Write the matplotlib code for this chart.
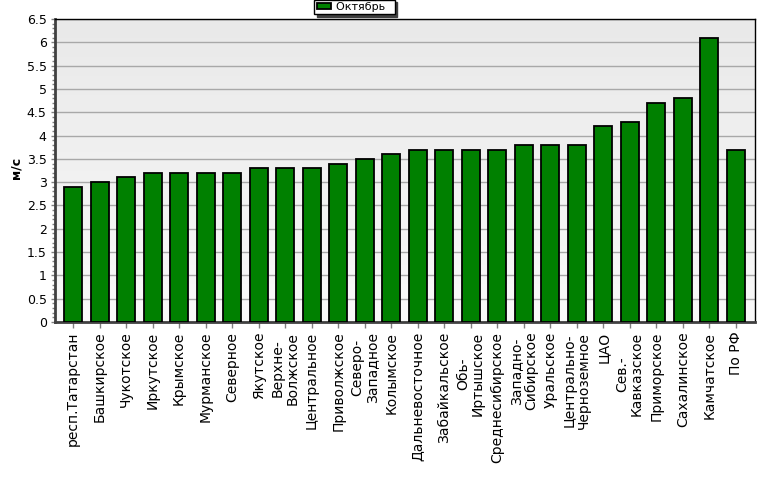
import numpy as np
import matplotlib
matplotlib.use('Agg')
import matplotlib.pyplot as plt
from matplotlib.ticker import MultipleLocator

plt.rcParams['font.family'] = ['DejaVu Sans']

regions = ['респ.Татарстан', 'Башкирское', 'Чукотское', 'Иркутское', 'Крымское',
           'Мурманское', 'Северное', 'Якутское', 'Верхне-\nВолжское', 'Центральное',
           'Приволжское', 'Северо-\nЗападное', 'Колымское', 'Дальневосточное',
           'Забайкальское', 'Обь-\nИртышское', 'Среднесибирское', 'Западно-\nСибирское',
           'Уральское', 'Центрально-\nЧерноземное', 'ЦАО', 'Сев.-\nКавказское',
           'Приморское', 'Сахалинское', 'Камчатское', 'По РФ']
october = [2.9, 3.0, 3.1, 3.2, 3.2, 3.2, 3.2, 3.3, 3.3, 3.3, 3.4, 3.5, 3.6, 3.7,
           3.7, 3.7, 3.7, 3.8, 3.8, 3.8, 4.2, 4.3, 4.7, 4.8, 6.1, 3.7]

fig = plt.figure(figsize=(7.77, 4.79), dpi=100)
ax = fig.add_axes([55 / 777, 1 - 322 / 479, 700 / 777, 303 / 479])

# gray gradient background
grad = np.linspace(0, 1, 256).reshape(-1, 1)
ax.imshow(grad, cmap=matplotlib.colors.LinearSegmentedColormap.from_list('bg', ['#f9f9f9', '#e9e9e9']),
          extent=[0, 1, 0, 1], transform=ax.transAxes, aspect='auto', origin='lower', zorder=0)

x = np.arange(len(regions))
bars = ax.bar(x, october, width=0.68, color='#008000', edgecolor='black', linewidth=1.3,
              zorder=3, label='Октябрь')

ax.set_xlim(-0.68, len(regions) - 0.28)
ax.set_ylim(0, 6.5)
ax.yaxis.set_major_locator(MultipleLocator(0.5))
ax.yaxis.set_minor_locator(MultipleLocator(0.1))
ax.yaxis.set_major_formatter(matplotlib.ticker.FuncFormatter(lambda v, p: f'{v:g}'))
ax.grid(axis='y', color='#a8a8a8', linewidth=1, zorder=1)
ax.set_axisbelow(True)

ax.set_xticks(x)
ax.set_xticklabels(regions, rotation=90, fontsize=10, linespacing=1.05, va='top', ha='center')
ax.tick_params(axis='x', length=4, width=1, color='#808080', pad=3)
ax.tick_params(axis='y', which='major', length=3, width=1, color='#808080', labelsize=9, pad=3)
ax.tick_params(axis='y', which='minor', length=2, width=1, color='#808080')

for s in ['left', 'bottom']:
    ax.spines[s].set_color('#404040')
    ax.spines[s].set_linewidth(2)
for s in ['top', 'right']:
    ax.spines[s].set_color('black')
    ax.spines[s].set_linewidth(1)

fig.text(16 / 777, 1 - 168 / 479, 'м/с', rotation=90, fontsize=9, fontweight='bold',
         ha='center', va='center')

leg = fig.legend(handles=[bars], labels=['Октябрь  '], loc='upper center',
                 bbox_to_anchor=(354.5 / 777, 1.0), fontsize=8, frameon=True,
                 fancybox=False, shadow={'color': '#404040', 'alpha': 1, 'ox': 1.5, 'oy': -1.5},
                 edgecolor='black', framealpha=1, borderpad=0.2, handlelength=1.3,
                 handleheight=0.5, handletextpad=0.45, borderaxespad=0)
leg.get_frame().set_linewidth(1)

fig.savefig('out.png', dpi=100)
